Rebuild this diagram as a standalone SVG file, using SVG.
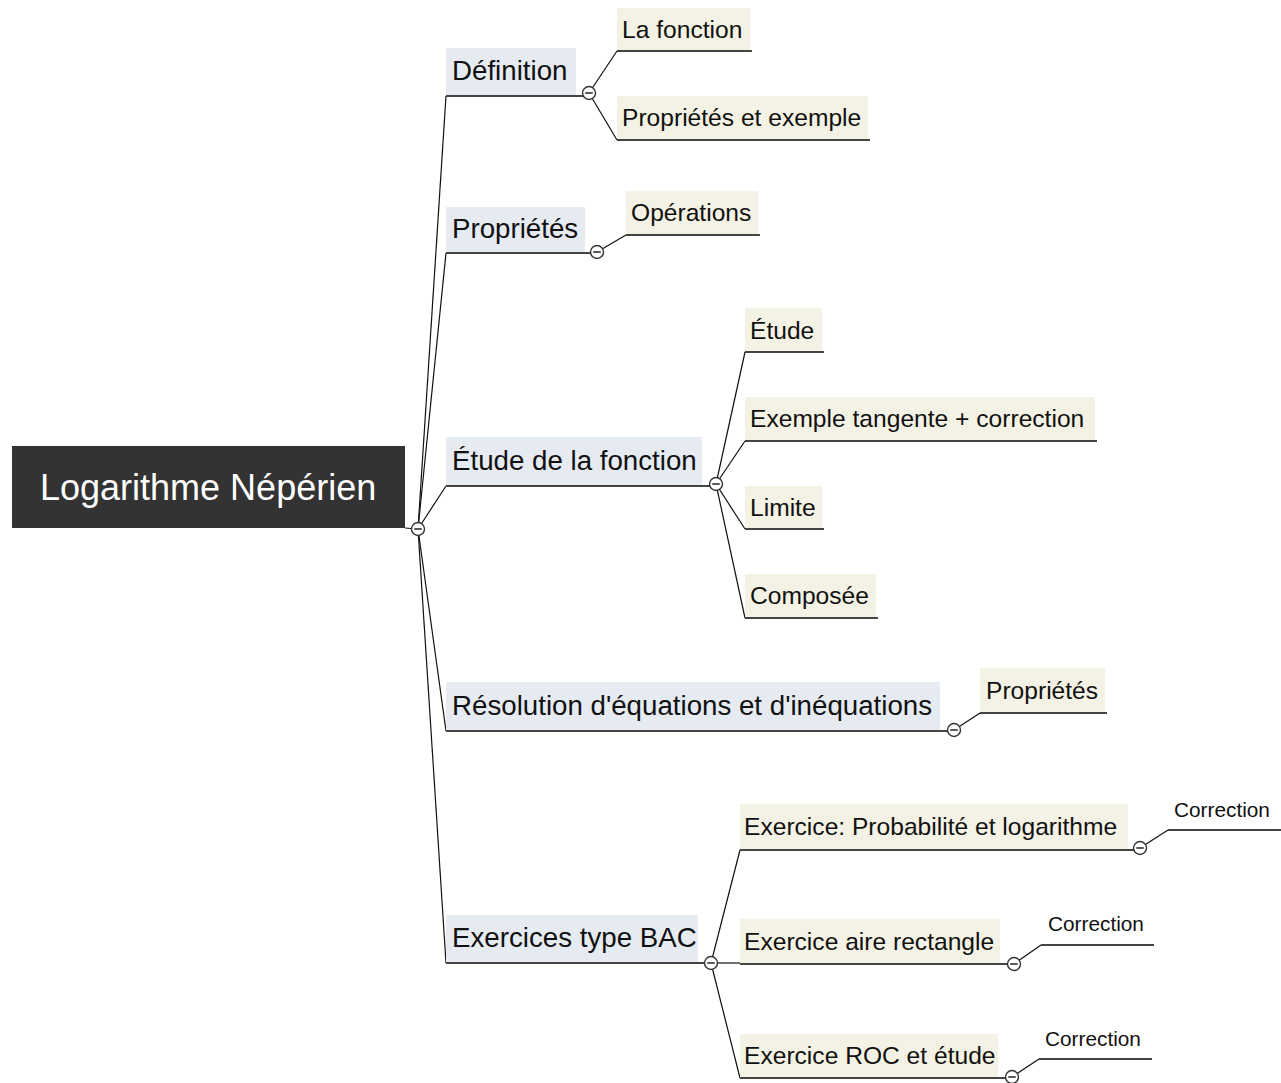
<svg xmlns="http://www.w3.org/2000/svg" width="1281" height="1083" viewBox="0 0 1281 1083">
<style>
.bg{fill:#ffffff}
.root{fill:#333333}
.roottxt{font-family:"Liberation Sans",Arial,sans-serif;font-size:36px;fill:#ffffff}
.main{fill:#e6ebf2}
.sub{fill:#f4f2e4}
.mtxt{font-family:"Liberation Sans",Arial,sans-serif;font-size:27.7px;fill:#111111}
.stxt{font-family:"Liberation Sans",Arial,sans-serif;font-size:24.6px;fill:#111111}
.ctxt{font-family:"Liberation Sans",Arial,sans-serif;font-size:20.8px;fill:#111111}
.ul{stroke:#444444;stroke-width:2;fill:none}
.con{stroke:#111111;stroke-width:1.2;fill:none}
.tog{fill:#ffffff;stroke:#333333;stroke-width:1.4}
.minus{stroke:#333333;stroke-width:1.6}
</style>
<defs>
<g id="toggle"><circle class="tog" cx="0" cy="0" r="6.5"/><line class="minus" x1="-3.8" y1="0" x2="3.8" y2="0"/></g>
</defs>
<rect class="bg" x="0" y="0" width="1281" height="1083"/>

<g id="connectors">
<line class="con" x1="405" y1="528" x2="418" y2="529"/>
<line class="con" x1="418" y1="529" x2="446" y2="96"/>
<line class="con" x1="418" y1="529" x2="446" y2="253"/>
<line class="con" x1="418" y1="529" x2="446" y2="486"/>
<line class="con" x1="418" y1="529" x2="446" y2="731"/>
<line class="con" x1="418" y1="529" x2="446" y2="963"/>
<line class="con" x1="589" y1="93" x2="617" y2="51"/>
<line class="con" x1="589" y1="93" x2="617" y2="140"/>
<line class="con" x1="597" y1="252" x2="626" y2="235"/>
<line class="con" x1="716" y1="484" x2="745" y2="352"/>
<line class="con" x1="716" y1="484" x2="745" y2="441"/>
<line class="con" x1="716" y1="484" x2="745" y2="529"/>
<line class="con" x1="716" y1="484" x2="745" y2="618"/>
<line class="con" x1="954" y1="730" x2="980" y2="713"/>
<line class="con" x1="711" y1="963" x2="740" y2="850"/>
<line class="con" x1="711" y1="963" x2="740" y2="963"/>
<line class="con" x1="711" y1="963" x2="740" y2="1078"/>
<line class="con" x1="1140" y1="848" x2="1168" y2="830"/>
<line class="con" x1="1014" y1="964" x2="1041" y2="945"/>
<line class="con" x1="1012" y1="1077" x2="1039" y2="1059"/>
</g>

<g id="root">
<rect class="root" x="12" y="446" width="393" height="82"/>
<text class="roottxt" x="40" y="500">Logarithme Népérien</text>
</g>

<g id="definition">
<rect class="main" x="446" y="48" width="130" height="48"/>
<text class="mtxt" x="452" y="80">Définition</text>
<line class="ul" x1="446" y1="96" x2="583" y2="96"/>
</g>
<g id="la-fonction">
<rect class="sub" x="617" y="8" width="133" height="43"/>
<text class="stxt" x="622" y="38">La fonction</text>
<line class="ul" x1="617" y1="51" x2="752" y2="51"/>
</g>
<g id="proprietes-exemple">
<rect class="sub" x="617" y="96" width="251" height="44"/>
<text class="stxt" x="622" y="126">Propriétés et exemple</text>
<line class="ul" x1="617" y1="140" x2="870" y2="140"/>
</g>

<g id="proprietes">
<rect class="main" x="446" y="207" width="139" height="46"/>
<text class="mtxt" x="452" y="238">Propriétés</text>
<line class="ul" x1="446" y1="253" x2="591" y2="253"/>
</g>
<g id="operations">
<rect class="sub" x="626" y="191" width="132" height="44"/>
<text class="stxt" x="631" y="221">Opérations</text>
<line class="ul" x1="626" y1="235" x2="760" y2="235"/>
</g>

<g id="etude-fonction">
<rect class="main" x="446" y="437" width="256" height="49"/>
<text class="mtxt" x="452" y="470">Étude de la fonction</text>
<line class="ul" x1="446" y1="486" x2="710" y2="486"/>
</g>
<g id="etude">
<rect class="sub" x="745" y="308" width="77" height="44"/>
<text class="stxt" x="750" y="339">Étude</text>
<line class="ul" x1="745" y1="352" x2="824" y2="352"/>
</g>
<g id="exemple-tangente">
<rect class="sub" x="745" y="397" width="350" height="44"/>
<text class="stxt" x="750" y="427">Exemple tangente + correction</text>
<line class="ul" x1="745" y1="441" x2="1097" y2="441"/>
</g>
<g id="limite">
<rect class="sub" x="745" y="486" width="77" height="43"/>
<text class="stxt" x="750" y="516">Limite</text>
<line class="ul" x1="745" y1="529" x2="824" y2="529"/>
</g>
<g id="composee">
<rect class="sub" x="745" y="574" width="131" height="44"/>
<text class="stxt" x="750" y="604">Composée</text>
<line class="ul" x1="745" y1="618" x2="878" y2="618"/>
</g>

<g id="resolution">
<rect class="main" x="446" y="682" width="494" height="49"/>
<text class="mtxt" x="452" y="715">Résolution d'équations et d'inéquations</text>
<line class="ul" x1="446" y1="731" x2="948" y2="731"/>
</g>
<g id="proprietes-2">
<rect class="sub" x="980" y="668" width="125" height="45"/>
<text class="stxt" x="986" y="699">Propriétés</text>
<line class="ul" x1="980" y1="713" x2="1107" y2="713"/>
</g>

<g id="exercices-bac">
<rect class="main" x="446" y="915" width="252" height="48"/>
<text class="mtxt" x="452" y="947">Exercices type BAC</text>
<line class="ul" x1="446" y1="963" x2="705" y2="963"/>
</g>
<g id="exercice-proba">
<rect class="sub" x="740" y="804" width="388" height="46"/>
<text class="stxt" x="744" y="835">Exercice: Probabilité et logarithme</text>
<line class="ul" x1="740" y1="850" x2="1134" y2="850"/>
</g>
<g id="exercice-aire">
<rect class="sub" x="740" y="919" width="260" height="45"/>
<text class="stxt" x="744" y="950">Exercice aire rectangle</text>
<line class="ul" x1="740" y1="964" x2="1008" y2="964"/>
</g>
<g id="exercice-roc">
<rect class="sub" x="740" y="1034" width="258" height="44"/>
<text class="stxt" x="744" y="1064">Exercice ROC et étude</text>
<line class="ul" x1="740" y1="1078" x2="1006" y2="1078"/>
</g>
<g id="correction-1">
<text class="ctxt" x="1174" y="817">Correction</text>
<line class="ul" x1="1168" y1="830" x2="1281" y2="830"/>
</g>
<g id="correction-2">
<text class="ctxt" x="1048" y="931">Correction</text>
<line class="ul" x1="1041" y1="945" x2="1154" y2="945"/>
</g>
<g id="correction-3">
<text class="ctxt" x="1045" y="1046">Correction</text>
<line class="ul" x1="1039" y1="1059" x2="1152" y2="1059"/>
</g>

<g id="toggles">
<use href="#toggle" x="418" y="529"/>
<use href="#toggle" x="589" y="93"/>
<use href="#toggle" x="597" y="252"/>
<use href="#toggle" x="716" y="484"/>
<use href="#toggle" x="954" y="730"/>
<use href="#toggle" x="711" y="963"/>
<use href="#toggle" x="1140" y="848"/>
<use href="#toggle" x="1014" y="964"/>
<use href="#toggle" x="1012" y="1077"/>
</g>
</svg>
